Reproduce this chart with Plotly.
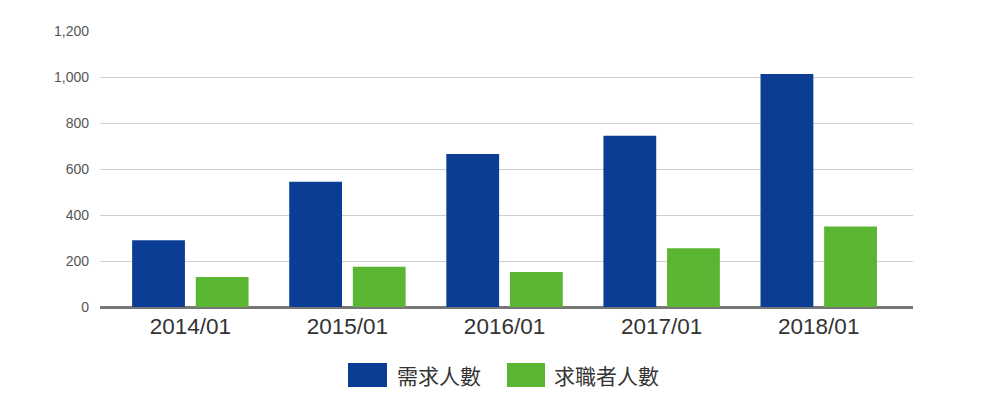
import plotly.graph_objects as go

categories = ["2014/01", "2015/01", "2016/01", "2017/01", "2018/01"]
demand = [290, 545, 665, 745, 1013]
seekers = [130, 175, 152, 255, 350]
series_names = ["需求人數", "求職者人數"]
colors = ["#0c3d94", "#5ab533"]
y_ticks = [0, 200, 400, 600, 800, 1000, 1200]

fig = go.Figure()
fig.add_trace(go.Bar(x=categories, y=demand, name=series_names[0],
                     marker=dict(color=colors[0], line=dict(width=0))))
fig.add_trace(go.Bar(x=categories, y=seekers, name=series_names[1],
                     marker=dict(color=colors[1], line=dict(width=0))))

fig.update_layout(
    width=1000, height=402,
    margin=dict(l=92, r=95, t=23, b=103),
    paper_bgcolor="white", plot_bgcolor="white",
    barmode="group", bargap=0.19, bargroupgap=0.17,
    showlegend=False,
    font=dict(family="Liberation Sans, Arial, sans-serif"),
)
fig.update_xaxes(
    range=[-0.575, 4.6], showgrid=False, showline=False, ticks="",
    ticklabelstandoff=3,
    tickfont=dict(size=22.5, color="#333333"),
)
fig.update_yaxes(
    range=[0, 1200], tickvals=y_ticks, tickformat=",d",
    showgrid=True, gridcolor="#cfcfcf", gridwidth=1,
    zeroline=True, zerolinecolor="#777777", zerolinewidth=3,
    showline=False, ticks="", ticklabelstandoff=10,
    tickfont=dict(size=14, color="#555555"),
)

# custom legend: swatches + labels (screen px converted to plot-area fractions)
legend_items = [(348, 387, 395), (507, 545, 552)]
for (x0, x1, tx), name, c in zip(legend_items, series_names, colors):
    fig.add_shape(type="rect", xref="paper", yref="paper",
                  x0=(x0 - 100) / 813, x1=(x1 - 100) / 813,
                  y0=(307 - 387) / 276, y1=(307 - 363) / 276,
                  fillcolor=c, line=dict(width=0))
    fig.add_annotation(text=name, xref="paper", yref="paper",
                       x=(tx - 100) / 813, y=(307 - 375) / 276,
                       xanchor="left", yanchor="middle", showarrow=False,
                       font=dict(size=21, color="#333333",
                                 family="Noto Sans CJK TC, Noto Sans CJK SC, sans-serif"))

fig.write_html("out.html")
